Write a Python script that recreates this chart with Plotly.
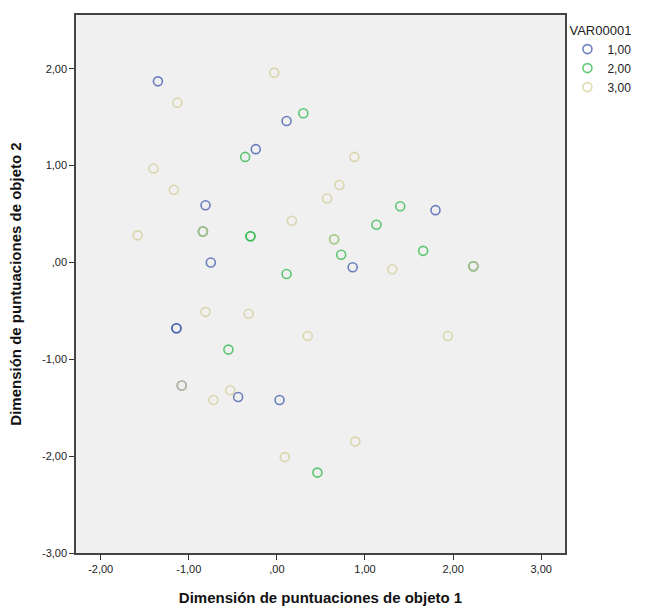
import plotly.graph_objects as go

# Object scores per group of VAR00001 (dimension 1, dimension 2)
groups = ["1,00", "2,00", "3,00"]
colors = ["#3E58AC", "#2EB848", "#D3CE97"]

dim1_g1 = [-1.35, 0.11, -0.24, -0.81, -0.75, 0.86, 1.80, -1.14, -1.14, -0.44, 0.03, -0.84, 2.23, -1.08]
dim2_g1 = [1.87, 1.46, 1.17, 0.59, 0.00, -0.05, 0.54, -0.68, -0.68, -1.39, -1.42, 0.32, -0.04, -1.27]

dim1_g2 = [0.30, -0.36, -0.30, -0.30, 0.11, 0.73, 1.13, 1.40, 1.66, -0.55, 0.46, -0.84, 0.65, 2.23]
dim2_g2 = [1.54, 1.09, 0.27, 0.27, -0.12, 0.08, 0.39, 0.58, 0.12, -0.90, -2.17, 0.32, 0.24, -0.04]

dim1_g3 = [-0.03, -1.13, 0.88, -1.40, -1.17, 0.71, 0.57, 0.17, -1.58, 1.31, -0.81, -0.32, 0.35,
           1.94, -0.53, -0.72, 0.89, 0.09, -0.84, 0.65, 2.23, -1.08]
dim2_g3 = [1.96, 1.65, 1.09, 0.97, 0.75, 0.80, 0.66, 0.43, 0.28, -0.07, -0.51, -0.53, -0.76,
           -0.76, -1.32, -1.42, -1.85, -2.01, 0.32, 0.24, -0.04, -1.27]

x_ticks = [-2, -1, 0, 1, 2, 3]
x_tick_text = ["-2,00", "-1,00", ",00", "1,00", "2,00", "3,00"]
y_ticks = [-3, -2, -1, 0, 1, 2]
y_tick_text = ["-3,00", "-2,00", "-1,00", ",00", "1,00", "2,00"]

fig = go.Figure()
for name, color, xs, ys in zip(groups, colors,
                               [dim1_g1, dim1_g2, dim1_g3],
                               [dim2_g1, dim2_g2, dim2_g3]):
    fig.add_trace(go.Scatter(
        x=xs, y=ys, mode="markers", name=name,
        marker=dict(symbol="circle-open", size=9, color=color,
                    opacity=0.75, line=dict(width=1.6, color=color)),
    ))

axis_font = dict(family="Liberation Sans, Arial, sans-serif", size=11, color="#222")
title_font = dict(family="Liberation Sans, Arial, sans-serif", size=15, color="#111")

fig.update_layout(
    width=650, height=608,
    margin=dict(l=76, r=85, t=15, b=55),
    paper_bgcolor="white",
    plot_bgcolor="#F0F0F0",
    font=dict(family="Liberation Sans, Arial, sans-serif"),
    legend=dict(
        title=dict(text="VAR00001", font=dict(size=13, color="#222")),
        x=1.005, xanchor="left", y=0.995, yanchor="top",
        font=dict(size=12, color="#222"),
        itemwidth=30, tracegroupgap=0,
        bgcolor="rgba(0,0,0,0)",
    ),
    xaxis=dict(
        range=[-2.28, 3.27], tickvals=x_ticks, ticktext=x_tick_text,
        showgrid=False, zeroline=False, ticks="outside", ticklen=5,
        tickcolor="#333", tickfont=axis_font,
        showline=True, linecolor="#444", linewidth=1.5, mirror=True,
        automargin=False,
        title=dict(text="<b>Dimensión de puntuaciones de objeto 1</b>",
                   font=title_font, standoff=19),
    ),
    yaxis=dict(
        range=[-3.0, 2.555], tickvals=y_ticks, ticktext=y_tick_text,
        showgrid=False, zeroline=False, ticks="outside", ticklen=5,
        tickcolor="#333", tickfont=axis_font,
        showline=True, linecolor="#444", linewidth=1.5, mirror=True,
        automargin=False,
        title=dict(text="<b>Dimensión de puntuaciones de objeto 2</b>",
                   font=title_font, standoff=17),
    ),
)

fig.write_html("out.html")
